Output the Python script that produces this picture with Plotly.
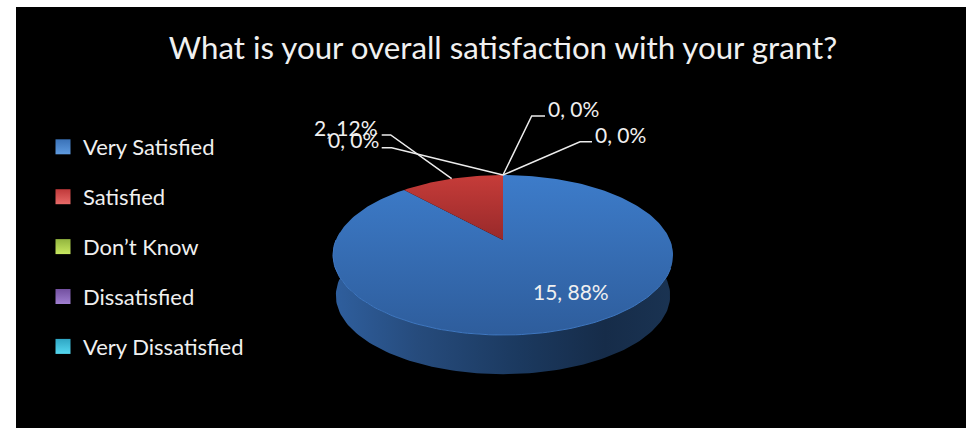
import math
import plotly.graph_objects as go

TITLE = "What is your overall satisfaction with your grant?"
categories = ["Very Satisfied", "Satisfied", "Don’t Know", "Dissatisfied", "Very Dissatisfied"]
values = [15, 2, 0, 0, 0]
legend_colors = ["#3a72b8", "#c0393a", "#93b53f", "#7350a0", "#2fa6c4"]
legend_light = ["#5f9be0", "#e86a68", "#c8e860", "#a07fd0", "#55d8f0"]
top_gradients = [("#2e5d9c", "#3d7cca"), ("#98292a", "#c63c39"), None, None, None]

FONT = "Lato, Carlito, Calibri, sans-serif"
TEXT = "#f0f0f0"

# Pie geometry, in the pixel-like units of the axes
CX, CY = 503.0, 240.0          # pie centre as projected
RAD_X, RAD_Y, PERSP = 167.0, 77.2, 0.1875
DEPTH = 41.0


def project(deg, depth=0.0, scale=1.0):
    """Rim point at a clockwise angle from 12 o'clock, in a tilted perspective."""
    t = math.radians(deg)
    u, v = math.sin(t) * scale, math.cos(t) * scale
    w = 1 + PERSP * v + depth * 0.0004
    return CX + RAD_X * u / w, CY - RAD_Y * v / w + depth


def arc(a0, a1, depth=0.0, step=1.5):
    n = max(2, int(abs(a1 - a0) / step))
    pts = [project(a0 + (a1 - a0) * i / n, depth) for i in range(n + 1)]
    return [p[0] for p in pts], [p[1] for p in pts]


total = sum(values)
angles = []
acc = 0.0
for v in values:
    angles.append((acc / total * 360, (acc + v) / total * 360))
    acc += v

fig = go.Figure()

# Side wall of the disc
x1, y1 = arc(84, 276)
x2, y2 = arc(276, 84, DEPTH)
fig.add_trace(go.Scatter(
    x=x1 + x2, y=y1 + y2, mode="lines", line=dict(width=0), fill="toself",
    fillgradient=dict(type="horizontal", colorscale=[
        [0, "#2f5f9e"], [0.25, "#264b7c"], [0.55, "#1b395f"], [0.8, "#162c49"], [1, "#1a3352"]]),
    showlegend=False, hoverinfo="skip"))

# Slices, sized from the values
for i, v in enumerate(values):
    if v <= 0:
        continue
    a0, a1 = angles[i]
    ax, ay = arc(a0, a1)
    xs = [CX] + ax + [CX]
    ys = [CY] + ay + [CY]
    c0, c1 = top_gradients[i]
    fig.add_trace(go.Scatter(
        x=xs, y=ys, mode="lines", line=dict(width=0), fill="toself",
        fillgradient=dict(type="vertical", colorscale=[[0, c0], [1, c1]]),
        showlegend=False, hoverinfo="skip"))

# Light edge along the front rim
ex, ey = arc(110, 270)
fig.add_trace(go.Scatter(x=ex, y=ey, mode="lines", line=dict(color="#3f78c2", width=1),
                         showlegend=False, hoverinfo="skip"))

# Legend entries
for i, name in enumerate(categories):
    fig.add_trace(go.Scatter(
        x=[None], y=[None], mode="markers", name=name, legendgroup=name,
        marker=dict(symbol="square", size=15, color=legend_colors[i],
                    gradient=dict(type="vertical", color=legend_light[i])),
        hoverinfo="skip"))

# Data labels and leader lines
label_pos = [(571, 291), (346, 127), (353, 139.5), (573, 108.5), (620, 134.5)]
leader_end = [None, (381.7, 135), (381.7, 147.7), (545, 116), (592, 141.7)]
leader_elbow = [None, (390.7, 135), (391.7, 147.7), (531.7, 116), (580, 141.7)]

annotations = []
for i, v in enumerate(values):
    annotations.append(dict(
        x=label_pos[i][0], y=label_pos[i][1], xref="x", yref="y",
        text=f"{v}, {round(v / total * 100)}%", showarrow=False,
        font=dict(family=FONT, size=21, color=TEXT), xanchor="center", yanchor="middle"))
    if leader_end[i]:
        mid = sum(angles[i]) / 2
        ax_, ay_ = project(mid)
        fig.add_trace(go.Scatter(
            x=[leader_end[i][0], leader_elbow[i][0], ax_],
            y=[leader_end[i][1], leader_elbow[i][1], ay_],
            mode="lines", line=dict(color="#ececec", width=1.5),
            showlegend=False, hoverinfo="skip"))

fig.update_layout(
    width=966, height=428, autosize=False,
    margin=dict(l=16, r=0, t=7, b=0),
    paper_bgcolor="white", plot_bgcolor="black",
    title=dict(text=TITLE, x=503 / 966, xanchor="center", y=1 - 48 / 428, yanchor="middle",
               font=dict(family=FONT, size=31.25, color=TEXT)),
    xaxis=dict(range=[16, 966], visible=False, fixedrange=True),
    yaxis=dict(range=[428, 7], visible=False, fixedrange=True),
    showlegend=True,
    legend=dict(x=(43 - 16) / 950, xanchor="left", y=1 - (126 - 7) / 421, yanchor="top",
                bgcolor="rgba(0,0,0,0)", font=dict(family=FONT, size=22, color=TEXT),
                tracegroupgap=18.3, itemwidth=30, traceorder="grouped"),
    annotations=annotations,
)

fig.write_html("out.html", config={"displayModeBar": False},
               post_script="document.body.style.margin='0';")
